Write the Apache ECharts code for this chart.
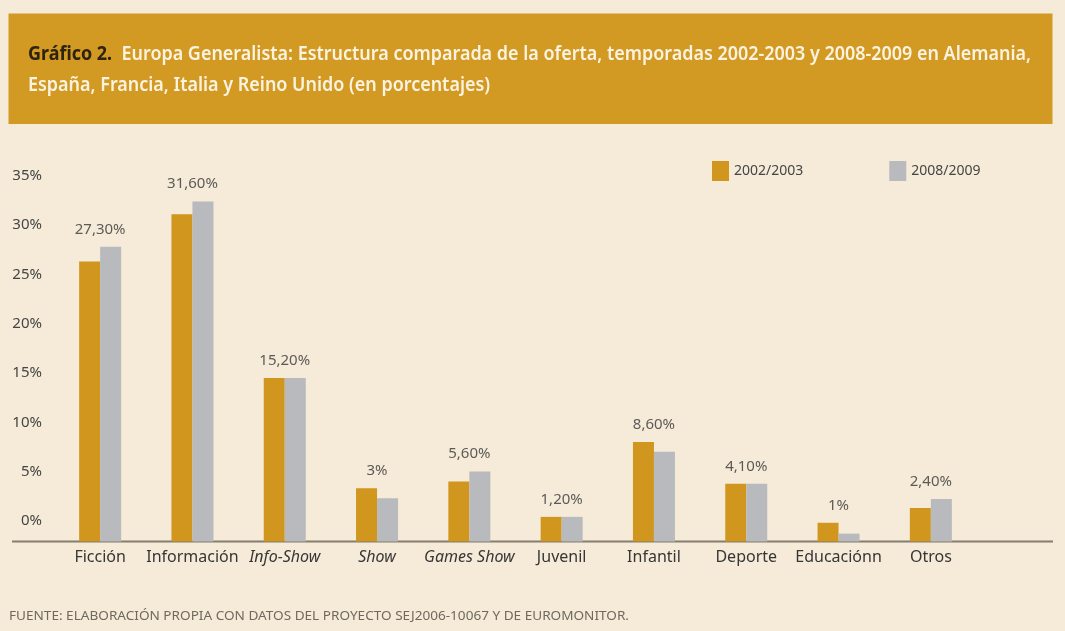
<!DOCTYPE html>
<html lang="es">
<head>
  <meta charset="UTF-8">
  <title>Gráfico 2. Europa Generalista</title>
  <style>
    html, body { margin: 0; padding: 0; background: #f5ebd8; }
    #chart { width: 1065px; height: 631px; }
  </style>
</head>
<body>
  <div id="chart"></div>

  <script src="https://cdn.jsdelivr.net/npm/echarts@6/dist/echarts.min.js"></script>
  <script>
    // datos (en % sobre la escala impresa)
    const categories = ['Ficción', 'Información', 'Info-Show', 'Show', 'Games Show', 'Juvenil', 'Infantil', 'Deporte', 'Educaciónn', 'Otros'];
    const italicCategories = ['Info-Show', 'Show', 'Games Show'];
    const values2002 = [26.3, 31.1, 14.5, 3.3, 4.0, 0.4, 8.0, 3.75, -0.2, 1.3];
    const values2008 = [27.8, 32.4, 14.5, 2.3, 5.0, 0.4, 7.0, 3.75, -1.3, 2.2];
    const valueLabels = ['27,30%', '31,60%', '15,20%', '3%', '5,60%', '1,20%', '8,60%', '4,10%', '1%', '2,40%'];
    const yTicks = [0, 5, 10, 15, 20, 25, 30, 35];
    const seriesNames = ['2002/2003', '2008/2009'];

    // la línea base del original queda por debajo del 0% impreso
    const axisFloor = -2.1;
    const axisTop = 36;

    const titleLead = 'Gráfico 2.';
    const titleLine1 = 'Europa Generalista: Estructura comparada de la oferta, temporadas 2002-2003 y 2008-2009 en Alemania,';
    const titleLine2 = 'España, Francia, Italia y Reino Unido (en porcentajes)';
    const sourceText = 'FUENTE: ELABORACIÓN PROPIA CON DATOS DEL PROYECTO SEJ2006-10067 Y DE EUROMONITOR.';

    const FONT = '"Noto Sans", sans-serif';
    const GOLD = '#d0961e';
    const GREY = '#b8babd';
    const grid = { left: 54, right: 88, top: 166, bottom: 89.5 };

    // la tipografía original es condensada: se estrecha el texto para ocupar el mismo ancho
    const ctx = document.createElement('canvas').getContext('2d');
    function textWidth(str, font) {
      ctx.font = font;
      return ctx.measureText(str).width;
    }
    const titleSize = 20;
    const titleScale = 1003 / (textWidth(titleLead + '  ', 'bold ' + titleSize + 'px ' + FONT) +
                               textWidth(titleLine1, '600 ' + titleSize + 'px ' + FONT));
    const sourceSize = 13;
    const sourceScale = 620 / textWidth(sourceText, sourceSize + 'px ' + FONT);

    const chart = echarts.init(document.getElementById('chart'));
    const baseY = 631 - grid.bottom;

    const option = {
      animation: false,
      backgroundColor: '#f5ebd8',
      textStyle: { fontFamily: FONT },
      grid: grid,
      legend: {
        data: seriesNames,
        left: 712,
        top: 161,
        padding: 0,
        icon: 'rect',
        itemWidth: 17,
        itemHeight: 20,
        itemGap: 86,
        textStyle: { fontSize: 14, color: '#454545', fontFamily: FONT }
      },
      xAxis: {
        type: 'category',
        data: categories,
        axisLine: { show: false },
        axisTick: { show: false },
        axisLabel: {
          interval: 0,
          margin: 8,
          fontSize: 16,
          color: '#363636',
          formatter: function (v) {
            return italicCategories.indexOf(v) >= 0 ? '{it|' + v + '}' : v;
          },
          rich: {
            it: { fontStyle: 'italic', fontSize: 16, color: '#363636', fontFamily: FONT }
          }
        }
      },
      yAxis: [
        {
          type: 'value',
          min: axisFloor,
          max: axisTop,
          minInterval: 5,
          maxInterval: 5,
          splitLine: { show: false },
          axisLine: { show: false },
          axisTick: { show: false },
          axisLabel: {
            showMinLabel: false,
            showMaxLabel: false,
            margin: 12,
            fontSize: 15,
            color: '#454545',
            formatter: function (v) {
              return yTicks.indexOf(Math.round(v * 100) / 100) >= 0 ? v + '%' : '';
            }
          }
        },
        {
          // eje de las barras: arranca en la línea base
          type: 'value',
          show: false,
          min: 0,
          max: axisTop - axisFloor
        }
      ],
      series: [
        {
          name: seriesNames[0],
          type: 'bar',
          yAxisIndex: 1,
          barWidth: 21,
          barGap: '0%',
          itemStyle: { color: GOLD },
          data: values2002.map(v => v - axisFloor)
        },
        {
          name: seriesNames[1],
          type: 'bar',
          yAxisIndex: 1,
          barWidth: 21,
          barGap: '0%',
          itemStyle: { color: GREY },
          data: values2008.map(v => v - axisFloor)
        },
        {
          // etiquetas centradas sobre cada par de barras
          type: 'scatter',
          yAxisIndex: 1,
          symbolSize: 0,
          silent: true,
          z: 5,
          label: {
            show: true,
            position: 'top',
            distance: 9,
            fontSize: 15,
            lineHeight: 17,
            color: '#363636',
            formatter: p => valueLabels[p.dataIndex]
          },
          data: values2002.map((v, i) => Math.max(v, values2008[i]) - axisFloor)
        }
      ],
      graphic: [
        {
          type: 'rect',
          silent: true,
          shape: { x: 8.5, y: 13.5, width: 1044, height: 110.5 },
          style: { fill: '#d29a22' }
        },
        {
          type: 'text',
          silent: true,
          x: 28,
          y: 54,
          scaleX: titleScale,
          style: {
            text: '{b|' + titleLead + '}  {t|' + titleLine1 + '}',
            verticalAlign: 'middle',
            rich: {
              b: { fontSize: titleSize, fontWeight: 'bold', fontFamily: FONT, fill: '#2e2210' },
              t: { fontSize: titleSize, fontWeight: 600, fontFamily: FONT, fill: '#fbf3e2' }
            },
            fontSize: titleSize,
            fontWeight: 600,
            fontFamily: FONT,
            fill: '#fbf3e2'
          }
        },
        {
          type: 'text',
          silent: true,
          x: 28,
          y: 85,
          scaleX: titleScale,
          style: {
            text: titleLine2,
            verticalAlign: 'middle',
            fontSize: titleSize,
            fontWeight: 600,
            fontFamily: FONT,
            fill: '#fbf3e2'
          }
        },
        {
          // línea base, más ancha que la rejilla como en el original
          type: 'line',
          silent: true,
          shape: { x1: 12, y1: baseY, x2: 1053, y2: baseY },
          style: { stroke: '#857d6d', lineWidth: 2 }
        },
        {
          type: 'text',
          silent: true,
          x: 9,
          y: 616,
          scaleX: sourceScale,
          style: {
            text: sourceText,
            verticalAlign: 'middle',
            fontSize: sourceSize,
            fontFamily: FONT,
            fill: '#6f695e'
          }
        }
      ]
    };

    chart.setOption(option);
  </script>
</body>
</html>
